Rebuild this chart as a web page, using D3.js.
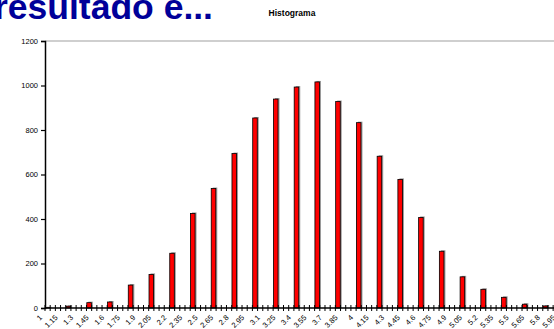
<!DOCTYPE html>
<html>
<head>
<meta charset="utf-8">
<script src="https://cdn.jsdelivr.net/npm/d3@7"></script>
<style>
  body { margin: 0; background: #fff; }
  text { font-family: 'Liberation Sans', Arial, sans-serif; }
</style>
</head>
<body>
<svg width="554" height="329"></svg>
<script>
const svg = d3.select('svg');

// categories of the axis (step 0.05)
const categories = ['1','1.05','1.1','1.15','1.2','1.25','1.3','1.35','1.4','1.45',
  '1.5','1.55','1.6','1.65','1.7','1.75','1.8','1.85','1.9','1.95',
  '2','2.05','2.1','2.15','2.2','2.25','2.3','2.35','2.4','2.45',
  '2.5','2.55','2.6','2.65','2.7','2.75','2.8','2.85','2.9','2.95',
  '3','3.05','3.1','3.15','3.2','3.25','3.3','3.35','3.4','3.45',
  '3.5','3.55','3.6','3.65','3.7','3.75','3.8','3.85','3.9','3.95',
  '4','4.05','4.1','4.15','4.2','4.25','4.3','4.35','4.4','4.45',
  '4.5','4.55','4.6','4.65','4.7','4.75','4.8','4.85','4.9','4.95',
  '5','5.05','5.1','5.15','5.2','5.25','5.3','5.35','5.4','5.45',
  '5.5','5.55','5.6','5.65','5.7','5.75','5.8','5.85','5.9','5.95'];

// labels shown on the x axis
const tickLabels = ['1','1.15','1.3','1.45','1.6','1.75','1.9','2.05','2.2','2.35',
  '2.5','2.65','2.8','2.95','3.1','3.25','3.4','3.55','3.7','3.85',
  '4','4.15','4.3','4.45','4.6','4.75','4.9','5.05','5.2','5.35',
  '5.5','5.65','5.8','5.95'];

// bins with counts
const bins = ['1','1.2','1.4','1.6','1.8','2','2.2','2.4','2.6','2.8',
  '3','3.2','3.4','3.6','3.8','4','4.2','4.4','4.6','4.8',
  '5','5.2','5.4','5.6','5.8'];
const counts = [1, 8, 24, 27, 103, 151, 246, 425, 537, 694,
  854, 939, 993, 1016, 928, 833, 682, 578, 407, 255,
  140, 84, 48, 17, 9];

const yTicks = [0, 200, 400, 600, 800, 1000, 1200];

const margin = { top: 41, left: 45 };
const innerHeight = 308 - margin.top;
const innerWidth = 518.5;

const xScale = d3.scaleBand()
  .domain(categories)
  .range([0, innerWidth])
  .paddingInner(0.12)
  .paddingOuter(0.06);

const yScale = d3.scaleLinear()
  .domain([0, 1200])
  .range([innerHeight, 0]);

// slide text behind the chart
svg.append('text')
  .attr('x', -6)
  .attr('y', 19)
  .attr('fill', '#000099')
  .style('font-size', '35.5px')
  .style('font-weight', 'bold')
  .text('resultado e...');

svg.append('text')
  .attr('x', 292)
  .attr('y', 16)
  .attr('text-anchor', 'middle')
  .style('font-size', '8.5px')
  .style('font-weight', 'bold')
  .text('Histograma');

const g = svg.append('g')
  .attr('transform', `translate(${margin.left}, ${margin.top})`);

// top border line
g.append('line')
  .attr('x1', 0)
  .attr('x2', innerWidth)
  .attr('y1', yScale(1200))
  .attr('y2', yScale(1200))
  .attr('stroke', '#a0a0a0')
  .attr('stroke-width', 1.2);

// bars: shadow then red bar
const data = bins.map((b, i) => ({ bin: b, count: counts[i] }));

g.selectAll('.shadow').data(data).enter().append('rect')
  .attr('class', 'shadow')
  .attr('x', d => xScale(d.bin) + 1.5)
  .attr('y', d => yScale(d.count) - 1)
  .attr('width', xScale.bandwidth())
  .attr('height', d => innerHeight - yScale(d.count) + 1)
  .attr('fill', '#9a9a9a');

g.selectAll('.bar').data(data).enter().append('rect')
  .attr('class', 'bar')
  .attr('x', d => xScale(d.bin))
  .attr('y', d => yScale(d.count))
  .attr('width', xScale.bandwidth())
  .attr('height', d => innerHeight - yScale(d.count))
  .attr('fill', '#ff0000')
  .attr('stroke', '#000')
  .attr('stroke-width', 0.8);

// y axis
const yAxis = d3.axisLeft(yScale)
  .tickValues(yTicks)
  .tickFormat(d3.format('d'))
  .tickSize(4)
  .tickPadding(3);
const yAxisGroup = g.append('g').call(yAxis);
yAxisGroup.select('.domain').attr('stroke-width', 1.5);
yAxisGroup.selectAll('.tick line').attr('stroke-width', 1.2);
yAxisGroup.selectAll('.tick text')
  .style('font-size', '7.5px')
  .attr('fill', '#000');

// x axis: line with crossing ticks at category boundaries
const xAxisGroup = g.append('g')
  .attr('transform', `translate(0, ${innerHeight})`);
xAxisGroup.append('line')
  .attr('x1', 0)
  .attr('x2', innerWidth)
  .attr('stroke', '#000')
  .attr('stroke-width', 1.5);
const step = xScale.step();
xAxisGroup.selectAll('.xtick').data(categories).enter().append('line')
  .attr('class', 'xtick')
  .attr('x1', d => xScale(d) - xScale.paddingInner() * step / 2)
  .attr('x2', d => xScale(d) - xScale.paddingInner() * step / 2)
  .attr('y1', -3)
  .attr('y2', 3)
  .attr('stroke', '#000')
  .attr('stroke-width', 1);

xAxisGroup.selectAll('.xlabel').data(tickLabels).enter().append('text')
  .attr('class', 'xlabel')
  .attr('transform', d => `translate(${xScale(d) + xScale.bandwidth() / 2 - 5}, 10) rotate(-45)`)
  .attr('text-anchor', 'end')
  .style('font-size', '7.5px')
  .text(d => d);
</script>
</body>
</html>
